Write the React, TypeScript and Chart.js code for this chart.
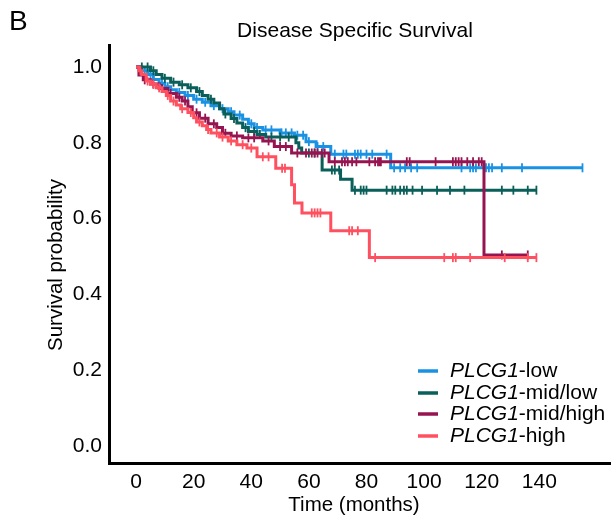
import React, { useEffect, useRef } from "react";
import { Chart, registerables } from "chart.js";
Chart.register(...registerables);

const FONT = '"Liberation Sans", Arial, sans-serif';

const PANEL_LETTER = "B";
const TITLE = "Disease Specific Survival";
const X_TITLE = "Time (months)";
const Y_TITLE = "Survival probability";
const GENE = "PLCG1";

const X_TICKS = [0, 20, 40, 60, 80, 100, 120, 140];
const Y_TICKS = [0, 0.2, 0.4, 0.6, 0.8, 1.0];

const GROUPS = ["-low", "-mid/low", "-mid/high", "-high"];
const COLORS = ["#1a92e3", "#0a5f5a", "#961450", "#ff5060"];

// Kaplan–Meier step data (time in months, survival after the step)
const LOW_T = [0, 2, 4, 6, 8, 10, 12, 14, 17, 20, 23, 26, 29, 32, 34, 37, 39, 41, 44, 50, 55, 59, 62.5, 67.6, 88.4];
const LOW_S = [1, 0.99, 0.98, 0.967, 0.957, 0.948, 0.94, 0.933, 0.925, 0.915, 0.907, 0.898, 0.89, 0.882, 0.873, 0.862, 0.85, 0.84, 0.834, 0.826, 0.82, 0.803, 0.79, 0.77, 0.734];
const LOW_END = 155;
const LOW_CENS = [3, 5, 9, 11, 15, 18, 21, 24, 27, 30, 33, 36, 40, 42, 45, 47, 50.5, 52, 54, 56, 58, 60, 63, 65, 69, 72, 73, 76, 77, 78, 80, 82, 87, 89.6, 91.7, 93.4, 95.5, 97.6, 113, 116, 117, 118, 121.5, 122.5, 123.6, 127, 134, 155];

const MIDLOW_T = [0, 5, 7, 9, 12, 15, 18, 21, 23, 25, 27, 29, 30.5, 33, 35, 37, 39, 42, 45, 55.5, 56.5, 57.5, 64.6, 71, 75];
const MIDLOW_S = [1, 0.99, 0.98, 0.97, 0.96, 0.953, 0.945, 0.935, 0.925, 0.915, 0.905, 0.89, 0.876, 0.864, 0.852, 0.84, 0.83, 0.822, 0.815, 0.8, 0.786, 0.773, 0.728, 0.704, 0.675];
const MIDLOW_END = 139;
const MIDLOW_CENS = [2, 4, 6, 10, 13, 16, 19, 22, 26, 31, 34, 38, 41, 43, 47, 50, 53, 60, 62, 68, 69, 70.5, 76, 78, 79, 80, 87, 89, 90, 91.7, 93, 94, 96, 99.3, 104.5, 109, 114, 127, 131, 136, 139];

const MIDHIGH_T = [0, 1, 2.5, 5, 8, 11, 14, 16, 18, 19.5, 22, 25, 28, 30, 33, 37, 44, 48, 54, 67, 120.8];
const MIDHIGH_S = [1, 0.979, 0.966, 0.955, 0.943, 0.93, 0.92, 0.91, 0.895, 0.879, 0.865, 0.85, 0.84, 0.825, 0.818, 0.813, 0.805, 0.79, 0.773, 0.75, 0.504];
const MIDHIGH_END = 136;
const MIDHIGH_CENS = [3, 6, 9, 12, 15, 17, 21, 24, 27, 31, 35, 39, 41, 46, 50, 52, 56, 59, 61, 62, 63, 64.5, 65.5, 69, 71.5, 72.5, 73.5, 75, 76.5, 81, 83, 84, 84.5, 85, 94, 95, 104, 110, 111, 112, 113, 115, 117, 119, 120, 127, 136];

const HIGH_T = [0, 1, 2, 3.5, 5, 7, 9, 10.5, 12, 14, 15.5, 18, 20, 21, 23, 24.5, 26, 29, 32, 35, 38.5, 42, 48.5, 54, 55, 57.6, 67.6, 81];
const HIGH_S = [1, 0.99, 0.98, 0.963, 0.955, 0.945, 0.935, 0.925, 0.91, 0.9, 0.89, 0.88, 0.866, 0.855, 0.845, 0.835, 0.826, 0.815, 0.805, 0.795, 0.786, 0.763, 0.733, 0.689, 0.641, 0.615, 0.568, 0.497];
const HIGH_END = 139;
const HIGH_CENS = [1.5, 4, 6, 8, 11, 13, 16, 19, 22, 25, 28, 30, 33, 37, 40, 44, 46, 50.7, 51.7, 61, 62, 63, 64, 74, 75, 77, 83, 107, 110, 111, 116, 128, 136, 139];

const SERIES = [
  { t: LOW_T, s: LOW_S, end: LOW_END, cens: LOW_CENS },
  { t: MIDLOW_T, s: MIDLOW_S, end: MIDLOW_END, cens: MIDLOW_CENS },
  { t: MIDHIGH_T, s: MIDHIGH_S, end: MIDHIGH_END, cens: MIDHIGH_CENS },
  { t: HIGH_T, s: HIGH_S, end: HIGH_END, cens: HIGH_CENS },
];

function survAt(t: number[], s: number[], x: number): number {
  let v = s[0];
  for (let i = 0; i < t.length; i++) {
    if (t[i] <= x) v = s[i];
  }
  return v;
}

const overlay = {
  id: "overlay",
  afterDraw(chart: any) {
    const ctx = chart.ctx;
    ctx.save();
    ctx.fillStyle = "#000";
    ctx.textBaseline = "middle";
    ctx.textAlign = "left";
    ctx.font = `28px ${FONT}`;
    ctx.fillText(PANEL_LETTER, 9, 22);
    ctx.textAlign = "center";
    ctx.font = `21px ${FONT}`;
    ctx.fillText(TITLE, 355, 31);
    ctx.font = `20.5px ${FONT}`;
    ctx.fillText(X_TITLE, 354, 505);
    ctx.save();
    ctx.translate(56, 265);
    ctx.rotate(-Math.PI / 2);
    ctx.fillText(Y_TITLE, 0, 0);
    ctx.restore();

    // legend
    const rowY = [371, 393, 414, 436];
    for (let i = 0; i < GROUPS.length; i++) {
      const y = rowY[i];
      ctx.strokeStyle = COLORS[i];
      ctx.lineWidth = 3.5;
      ctx.beginPath();
      ctx.moveTo(418, y);
      ctx.lineTo(438, y);
      ctx.stroke();
      ctx.textAlign = "left";
      ctx.fillStyle = "#000";
      ctx.font = `italic 21px ${FONT}`;
      ctx.fillText(GENE, 450, y);
      const w = ctx.measureText(GENE).width;
      ctx.font = `21px ${FONT}`;
      ctx.fillText(GROUPS[i], 450 + w, y);
    }
    ctx.restore();
  },
};

export default function App() {
  const ref = useRef<HTMLCanvasElement | null>(null);
  useEffect(() => {
    if (!ref.current) return;
    const datasets: any[] = [];
    SERIES.forEach((ser, i) => {
      const pts = ser.t.map((t, k) => ({ x: t, y: ser.s[k] }));
      pts.push({ x: ser.end, y: ser.s[ser.s.length - 1] });
      datasets.push({
        type: "line",
        data: pts,
        borderColor: COLORS[i],
        backgroundColor: COLORS[i],
        borderWidth: 3,
        stepped: "before",
        pointRadius: 0,
        fill: false,
        order: 10 - i,
      });
    });
    SERIES.forEach((ser, i) => {
      datasets.push({
        type: "scatter",
        data: ser.cens.map((c) => ({ x: c, y: survAt(ser.t, ser.s, c) })),
        borderColor: COLORS[i],
        backgroundColor: COLORS[i],
        pointStyle: "line",
        rotation: 90,
        pointRadius: 4.5,
        borderWidth: 1.8,
        showLine: false,
        order: 10 - i,
      });
    });
    const chart = new Chart(ref.current, {
      type: "line",
      data: { datasets },
      options: {
        animation: false,
        responsive: false,
        maintainAspectRatio: false,
        layout: { autoPadding: false, padding: { top: 45, right: 0, left: 0, bottom: 0 } },
        plugins: { legend: { display: false }, tooltip: { enabled: false }, title: { display: false } },
        scales: {
          x: {
            type: "linear",
            min: -9.4,
            max: 164.9,
            grid: { display: false, drawTicks: false },
            border: { display: true, color: "#000", width: 3 },
            ticks: { color: "#000", font: { family: FONT, size: 21 }, padding: 7, maxRotation: 0 },
            afterBuildTicks: (scale: any) => {
              scale.ticks = X_TICKS.map((v) => ({ value: v }));
            },
            afterFit: (scale: any) => {
              scale.height = 59;
            },
          },
          y: {
            type: "linear",
            min: -0.0449,
            max: 1.058,
            grid: { display: false, drawTicks: false },
            border: { display: true, color: "#000", width: 3 },
            ticks: {
              color: "#000",
              font: { family: FONT, size: 21 },
              padding: 7,
              callback: (v: any) => Number(v).toFixed(1),
            },
            afterBuildTicks: (scale: any) => {
              scale.ticks = Y_TICKS.map((v) => ({ value: v }));
            },
            afterFit: (scale: any) => {
              scale.width = 109;
            },
          },
        },
      },
      plugins: [overlay],
    });
    return () => chart.destroy();
  }, []);
  return (
    <div style={{ position: "fixed", left: 0, top: 0, width: 611, height: 522, background: "#fff" }}>
      <canvas ref={ref} width={611} height={522} style={{ display: "block" }} />
    </div>
  );
}
